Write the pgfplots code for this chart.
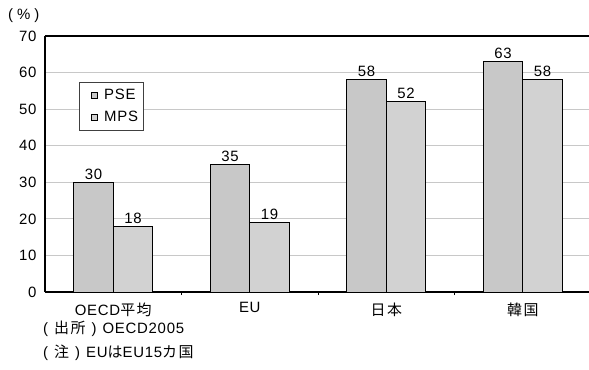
\documentclass[border=0pt]{standalone}
\usepackage{pgfplots}
\pgfplotsset{compat=1.18}
\usepackage{fontspec}
\setmainfont{Liberation Sans}[LetterSpace=5]
\newfontfamily\jp{Noto Sans CJK JP}[LetterSpace=10]
\definecolor{pse}{HTML}{C8C8C8}
\definecolor{mps}{HTML}{D2D2D2}
\definecolor{gridc}{HTML}{C8C8C8}
\newcommand\fs{\fontsize{15}{17}\selectfont}
\begin{document}
\begin{tikzpicture}[x=1bp,y=1bp]
\useasboundingbox (-45,-77) rectangle (544,292);
\begin{axis}[
  at={(0,0)}, anchor=south west,
  scale only axis, width=546bp, height=256bp,
  ymin=0, ymax=70, ytick={0,10,...,70},
  xmin=-0.5, xmax=3.5,
  xtick={0,1,2,3},
  xticklabels={OECD{\jp 平均},EU,{\jp 日本},{\jp 韓国}},
  extra x ticks={0.5,1.5,2.5},
  extra x tick labels={},
  extra x tick style={major tick length=3bp, tick style={black, line width=0.8pt}, grid=none},
  major tick length=0pt,
  ymajorgrids, grid style={gridc, line width=0.8pt},
  axis x line*=bottom, axis y line*=left,
  axis line style={black, line width=1.2pt, -},
  ybar=0pt, bar width=39.5bp,
  ticklabel style={font=\fs},
  /pgf/number format/assume math mode=true,
  yticklabel style={xshift=-5bp},
  xticklabel style={yshift=-7bp},
  nodes near coords,
  nodes near coords style={font=\fs, black, yshift=-1bp},
  legend style={at={(rel axis cs:0.062,0.820)}, anchor=north west, draw=black!75, line width=0.8pt,
    font=\fs, row sep=6bp, inner xsep=3bp, inner ysep=5bp},
  legend cell align=left,
  legend image code/.code={\path[draw=none, fill=none] (0bp,0bp) -- (20bp,0bp); \draw[#1, draw=black, line width=1.2pt] (9bp,-3bp) rectangle (15bp,3bp);},
  clip=false,
]
\addplot[fill=pse, draw=black, line width=1pt] coordinates {(0,30) (1,35) (2,58) (3,63)};
\addplot[fill=mps, draw=black, line width=1pt] coordinates {(0,18) (1,19) (2,52) (3,58)};
\legend{PSE,MPS}
\draw[black, line width=1.2pt] (rel axis cs:0,1) -- (rel axis cs:1,1);
\end{axis}
\node[anchor=west, inner sep=0pt, font=\fs] at (-37,276) {(\hspace{4bp}\%\hspace{4bp})};
\node[anchor=west, inner sep=0pt, font=\fs] at (-2,-37) {(\hspace{6bp}{\jp 出所}\hspace{6bp})\hspace{6bp}OECD2005};
\node[anchor=west, inner sep=0pt, font=\fs] at (-2,-61) {(\hspace{6bp}{\jp 注}\hspace{6bp})\hspace{6bp}EU{\jp は}EU15{\jp カ国}};
\end{tikzpicture}
\end{document}
